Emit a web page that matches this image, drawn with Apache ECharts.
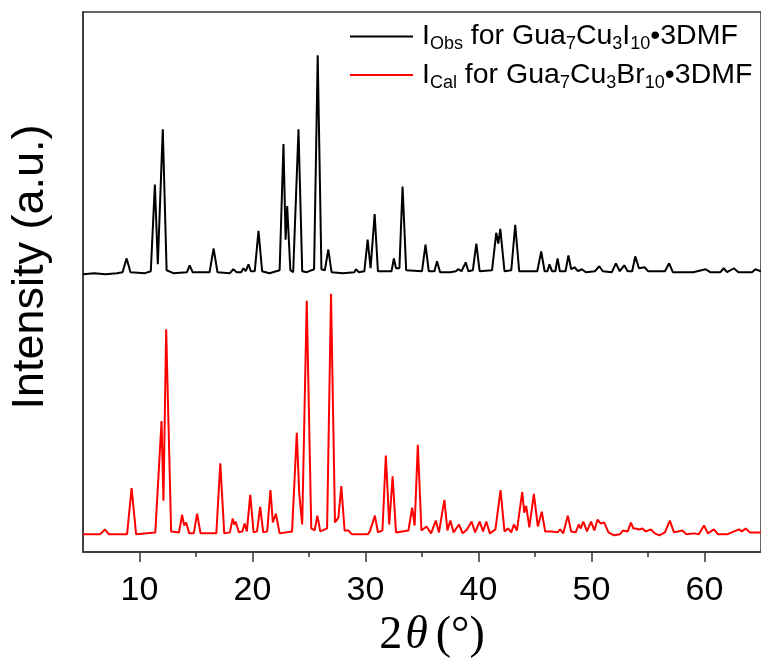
<!DOCTYPE html>
<html>
<head>
<meta charset="utf-8">
<script src="https://cdn.jsdelivr.net/npm/echarts@6/dist/echarts.min.js"></script>
<style>html,body{margin:0;padding:0;background:#fff;overflow:hidden;}#c{width:761px;height:664px;}</style>
</head>
<body>
<div id="c"></div>
<script>
// Observed pattern (black, offset upward in the original figure)
const obsTheta = [5.0,6.0,7.0,8.0,8.5,8.86,9.2,10.5,11.0,11.36,11.62,12.06,12.4,13.0,14.2,14.44,14.7,16.2,16.56,16.9,18.0,18.3,18.6,19.0,19.2,19.4,19.65,19.85,20.2,20.53,20.85,21.5,22.4,22.74,22.93,23.07,23.35,23.6,23.75,24.07,24.4,24.8,25.45,25.77,26.1,26.4,26.71,27.0,28.0,29.0,29.16,29.4,29.9,30.19,30.45,30.81,31.1,32.3,32.51,32.7,33.0,33.28,33.6,35.0,35.31,35.6,36.1,36.33,36.6,37.5,38.0,38.19,38.5,38.87,39.1,39.5,39.81,40.1,41.2,41.57,41.75,41.93,42.3,42.9,43.25,43.6,45.2,45.55,45.85,46.1,46.28,46.5,46.8,47.0,47.2,47.7,47.96,48.2,48.5,48.8,49.15,49.5,50.3,50.69,51.0,51.8,52.16,52.5,52.9,53.2,53.6,53.87,54.2,54.7,55.0,56.5,56.87,57.2,59.0,60.1,60.5,61.4,61.7,62.0,62.6,63.0,64.2,64.5,65.0];
const obsInt = [282,283,282,283,284,298,284,283,285,373,292,429,286,283,284,291,284,284,308,284,283,287,284,284,288,285,292,285,285,326,285,283,286,414,317,351,286,284,286,429,285,284,287,504,287,286,307,284,283,284,287,284,285,317,288,343,285,285,298,288,288,371,286,285,312,285,285,295,284,284,285,287,285,294,285,286,313,285,286,324,313,328,285,286,332,285,285,305,285,285,292,285,285,298,285,285,301,287,289,285,287,284,285,290,285,284,293,285,291,285,285,300,288,289,285,285,293,284,284,287,284,284,288,284,288,284,284,287,285];
// Calculated pattern (red)
const calTheta = [5.0,6.5,6.94,7.3,8.9,9.3,9.7,11.4,11.95,12.12,12.36,12.8,13.5,13.77,13.95,14.13,14.4,14.8,15.1,15.4,16.8,17.15,17.5,18.0,18.24,18.38,18.5,18.8,19.1,19.3,19.5,19.8,20.1,20.4,20.68,20.95,21.3,21.59,21.8,22.07,22.4,23.5,23.92,24.13,24.4,24.8,25.2,25.5,25.74,26.0,26.6,26.95,27.3,27.6,27.86,28.15,28.48,28.8,30.2,30.39,30.55,30.83,31.1,31.5,31.8,32.1,32.4,32.7,33.8,34.13,34.35,34.63,34.95,35.4,35.8,36.22,36.5,36.98,37.25,37.51,37.8,38.27,38.6,38.98,39.39,39.7,40.1,40.4,40.69,41.0,41.5,41.95,42.3,42.6,42.9,43.13,43.4,43.87,44.05,44.22,44.5,44.9,45.25,45.6,45.9,46.5,47.0,47.23,47.5,47.9,48.2,48.6,48.87,49.05,49.28,49.6,49.96,50.25,50.54,50.8,51.13,51.5,52.0,52.5,52.8,53.2,53.49,53.7,53.9,54.2,54.5,54.8,55.26,55.6,56.0,56.5,56.93,57.3,58.05,58.4,59.1,59.5,59.96,60.3,60.84,61.2,62.0,63.05,63.3,63.65,64.0,65.0];
const calInt = [18,18,23,18,18,65,18,20,133,52,226,21,20,38,27,30,19,19,39,19,19,90,19,20,34,28,31,20,21,29,21,58,20,21,46,20,21,63,30,39,19,21,121,60,28,255,24,22,37,21,24,262,30,35,67,22,22,18,18,21,19,37,20,22,98,28,77,20,22,45,27,109,22,26,19,32,20,53,22,32,20,28,19,23,31,20,31,21,31,19,23,63,21,24,20,28,22,61,40,47,25,59,26,41,21,21,20,23,19,37,21,20,28,24,31,21,31,22,33,29,30,20,17,18,22,21,30,24,24,23,24,21,23,19,17,20,32,20,22,18,19,18,27,19,23,18,18,23,21,24,20,20];
const majorTicks = [10,20,30,40,50,60];
const minorTicks = [15,25,35,45,55];
const seriesNames = ['obs','cal'];

const zip = (a, b) => a.map((v, i) => [v, b[i]]);
const SANS = 'Arial, "Liberation Sans", sans-serif';
const SERIF = '"Liberation Serif", "Times New Roman", serif';

const legendRich = {
  m: {fontSize: 28.5, fontFamily: SANS, color: '#000', lineHeight: 34},
  s: {fontSize: 18, fontFamily: SANS, color: '#000', lineHeight: 10, verticalAlign: 'bottom'}
};
const legendText = {
  obs: '{m|I}{s|Obs}{m| for Gua}{s|7}{m|Cu}{s|3}{m|I}{s|10}{m|•3DMF}',
  cal: '{m|I}{s|Cal}{m| for Gua}{s|7}{m|Cu}{s|3}{m|Br}{s|10}{m|•3DMF}'
};

const chart = echarts.init(document.getElementById('c'), null, {renderer: 'canvas', width: 761, height: 664});
chart.setOption({
  animation: false,
  backgroundColor: '#fff',
  grid: {left: 82, width: 680, top: 12, height: 548, show: true, borderColor: '#333', borderWidth: 1.5, containLabel: false},
  legend: {
    orient: 'vertical', left: 350, top: 22, padding: 0, itemWidth: 63, itemHeight: 2, itemGap: 7,
    icon: 'rect',
    data: seriesNames,
    formatter: n => legendText[n],
    textStyle: {rich: legendRich, padding: [0, 0, 0, 4]}
  },
  xAxis: [{
    type: 'value', min: 5, max: 65, position: 'bottom',
    name: '{n|2}{t|θ}{n|(°)}', nameLocation: 'middle', nameGap: 55,
    nameTextStyle: {padding: [0, 0, 0, 20], rich: {
      n: {fontFamily: SERIF, fontSize: 46, color: '#000'},
      t: {fontFamily: SERIF, fontSize: 46, fontStyle: 'italic', color: '#000', padding: [0, 8, 0, 3]}
    }},
    axisLine: {show: true, lineStyle: {color: '#333', width: 1.5}},
    axisTick: {show: true, inside: false, length: 10, customValues: majorTicks, lineStyle: {color: '#333', width: 1.5}},
    axisLabel: {customValues: majorTicks, fontSize: 34, fontFamily: SANS, color: '#000', margin: 22},
    splitLine: {show: false}
  }, {
    type: 'value', min: 5, max: 65, position: 'bottom',
    axisLine: {show: false},
    axisTick: {show: true, inside: false, length: 5, customValues: minorTicks, lineStyle: {color: '#333', width: 1.5}},
    axisLabel: {show: false},
    splitLine: {show: false}
  }],
  yAxis: {
    type: 'value', min: 0, max: 548,
    name: 'Intensity (a.u.)', nameLocation: 'middle', nameGap: 30,
    nameTextStyle: {fontSize: 45, fontFamily: SANS, color: '#000', padding: [0, 0, 0, 30]},
    axisLine: {show: true, lineStyle: {color: '#333', width: 1.5}},
    axisTick: {show: false}, axisLabel: {show: false}, splitLine: {show: false}
  },
  series: [{
    name: 'obs', type: 'line', xAxisIndex: 0, data: zip(obsTheta, obsInt),
    symbol: 'none', smooth: false, lineStyle: {color: '#000', width: 2}, itemStyle: {color: '#000'}
  }, {
    name: 'cal', type: 'line', xAxisIndex: 0, data: zip(calTheta, calInt),
    symbol: 'none', smooth: false, lineStyle: {color: '#ff0000', width: 2}, itemStyle: {color: '#ff0000'}
  }]
});
</script>
</body>
</html>
